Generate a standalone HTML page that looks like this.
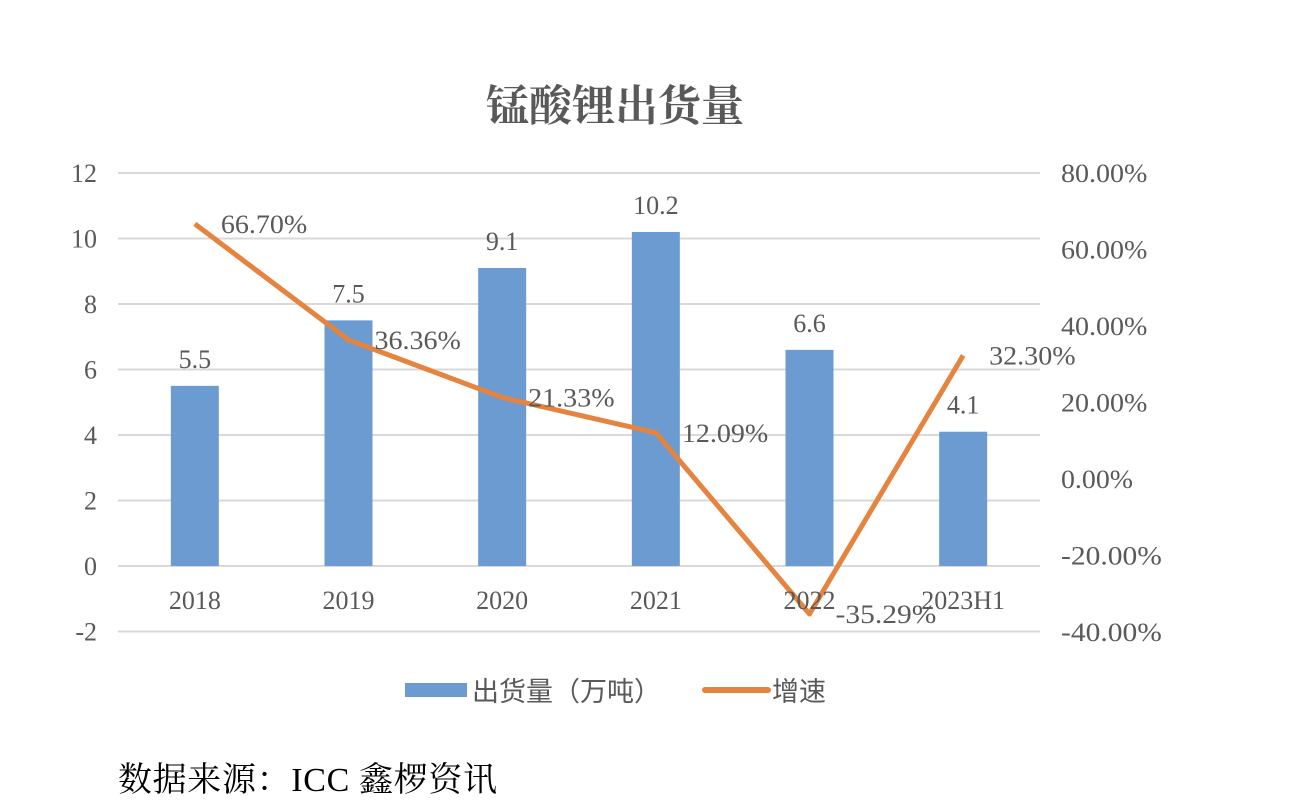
<!DOCTYPE html>
<html><head><meta charset="utf-8"><style>
body{margin:0;background:#fff;width:1310px;height:806px;overflow:hidden}
svg{display:block}
text{font-family:"Liberation Serif","Noto Serif CJK SC",serif;fill:#595959}
</style></head><body>
<svg id="chart" width="1310" height="806">
<text x="615" y="121" text-anchor="middle" font-size="43" font-weight="bold">锰酸锂出货量</text>
<g id="grid"></g><g id="bars"></g><g id="line"></g><g id="labels"></g>
<g>
<rect x="405" y="683" width="62" height="14" fill="#6b9bd1"/>
<text x="472" y="701" font-size="27" style="font-family:'Noto Sans CJK SC',sans-serif">出货量（万吨）</text>
<line x1="705" y1="690" x2="768" y2="690" stroke="#e4843e" stroke-width="6" stroke-linecap="round"/>
<text x="772" y="701" font-size="27" style="font-family:'Noto Sans CJK SC',sans-serif">增速</text>
</g>
<text x="118" y="791" font-size="34" fill="#000" style="fill:#000" textLength="379">数据来源：ICC 鑫椤资讯</text>
</svg>
<script>
const categories=["2018","2019","2020","2021","2022","2023H1"];
const volumes=[5.5,7.5,9.1,10.2,6.6,4.1];
const growth=[66.70,36.36,21.33,12.09,-35.29,32.30];
const leftTicks=[-2,0,2,4,6,8,10,12];
const rightTicks=[-40,-20,0,20,40,60,80];
const NS="http://www.w3.org/2000/svg";
const x0=118,x1=1040,band=(x1-x0)/categories.length;
const xc=i=>x0+band*(i+0.5);
const yL=v=>566-v*32.75;
const yR=v=>479-v/20*76.5;
function mk(t,a,p){const e=document.createElementNS(NS,t);for(const k in a)e.setAttribute(k,a[k]);p.appendChild(e);return e;}
const grid=document.getElementById('grid'),bars=document.getElementById('bars'),line=document.getElementById('line'),labels=document.getElementById('labels');
const FS=26;
leftTicks.forEach(v=>{
 const l=mk('line',{x1:x0,x2:x1,y1:yL(v),y2:yL(v),stroke:'#d9d9d9','stroke-width':2},grid);
 
 
 const t=mk('text',{x:97,y:yL(v)+9,'text-anchor':'end','font-size':FS},grid);t.textContent=v;
 
 
});
rightTicks.forEach(v=>{
 const s=v.toFixed(2)+'%';
 const t=mk('text',{x:1061,y:yR(v)+9,'font-size':FS,'textLength':s.length*14.4,'lengthAdjust':'spacingAndGlyphs'},grid);t.textContent=s;
 
 
});
categories.forEach((c,i)=>{
 const r=mk('rect',{x:xc(i)-24,y:yL(volumes[i]),width:48,height:yL(0)-yL(volumes[i]),fill:'#6b9bd1'},bars);
 
 
 const t=mk('text',{x:xc(i),y:yL(0)+43,'text-anchor':'middle','font-size':FS},labels);t.textContent=c;
 
 
 const v=mk('text',{x:xc(i),y:yL(volumes[i])-18,'text-anchor':'middle','font-size':FS},labels);v.textContent=volumes[i];
 
 
});
const pts=growth.map((g,i)=>xc(i)+','+yR(g)).join(' ');
const pl=mk('polyline',{points:pts,fill:'none',stroke:'#e4843e','stroke-width':5,'stroke-linejoin':'round'},line);


growth.forEach((g,i)=>{
 const s=g.toFixed(2)+'%';
 const t=mk('text',{x:xc(i)+26,y:yR(g)+9,'font-size':FS,'textLength':s.length*14.4,'lengthAdjust':'spacingAndGlyphs'},labels);t.textContent=s;
 
 
});
</script>
</body></html>
